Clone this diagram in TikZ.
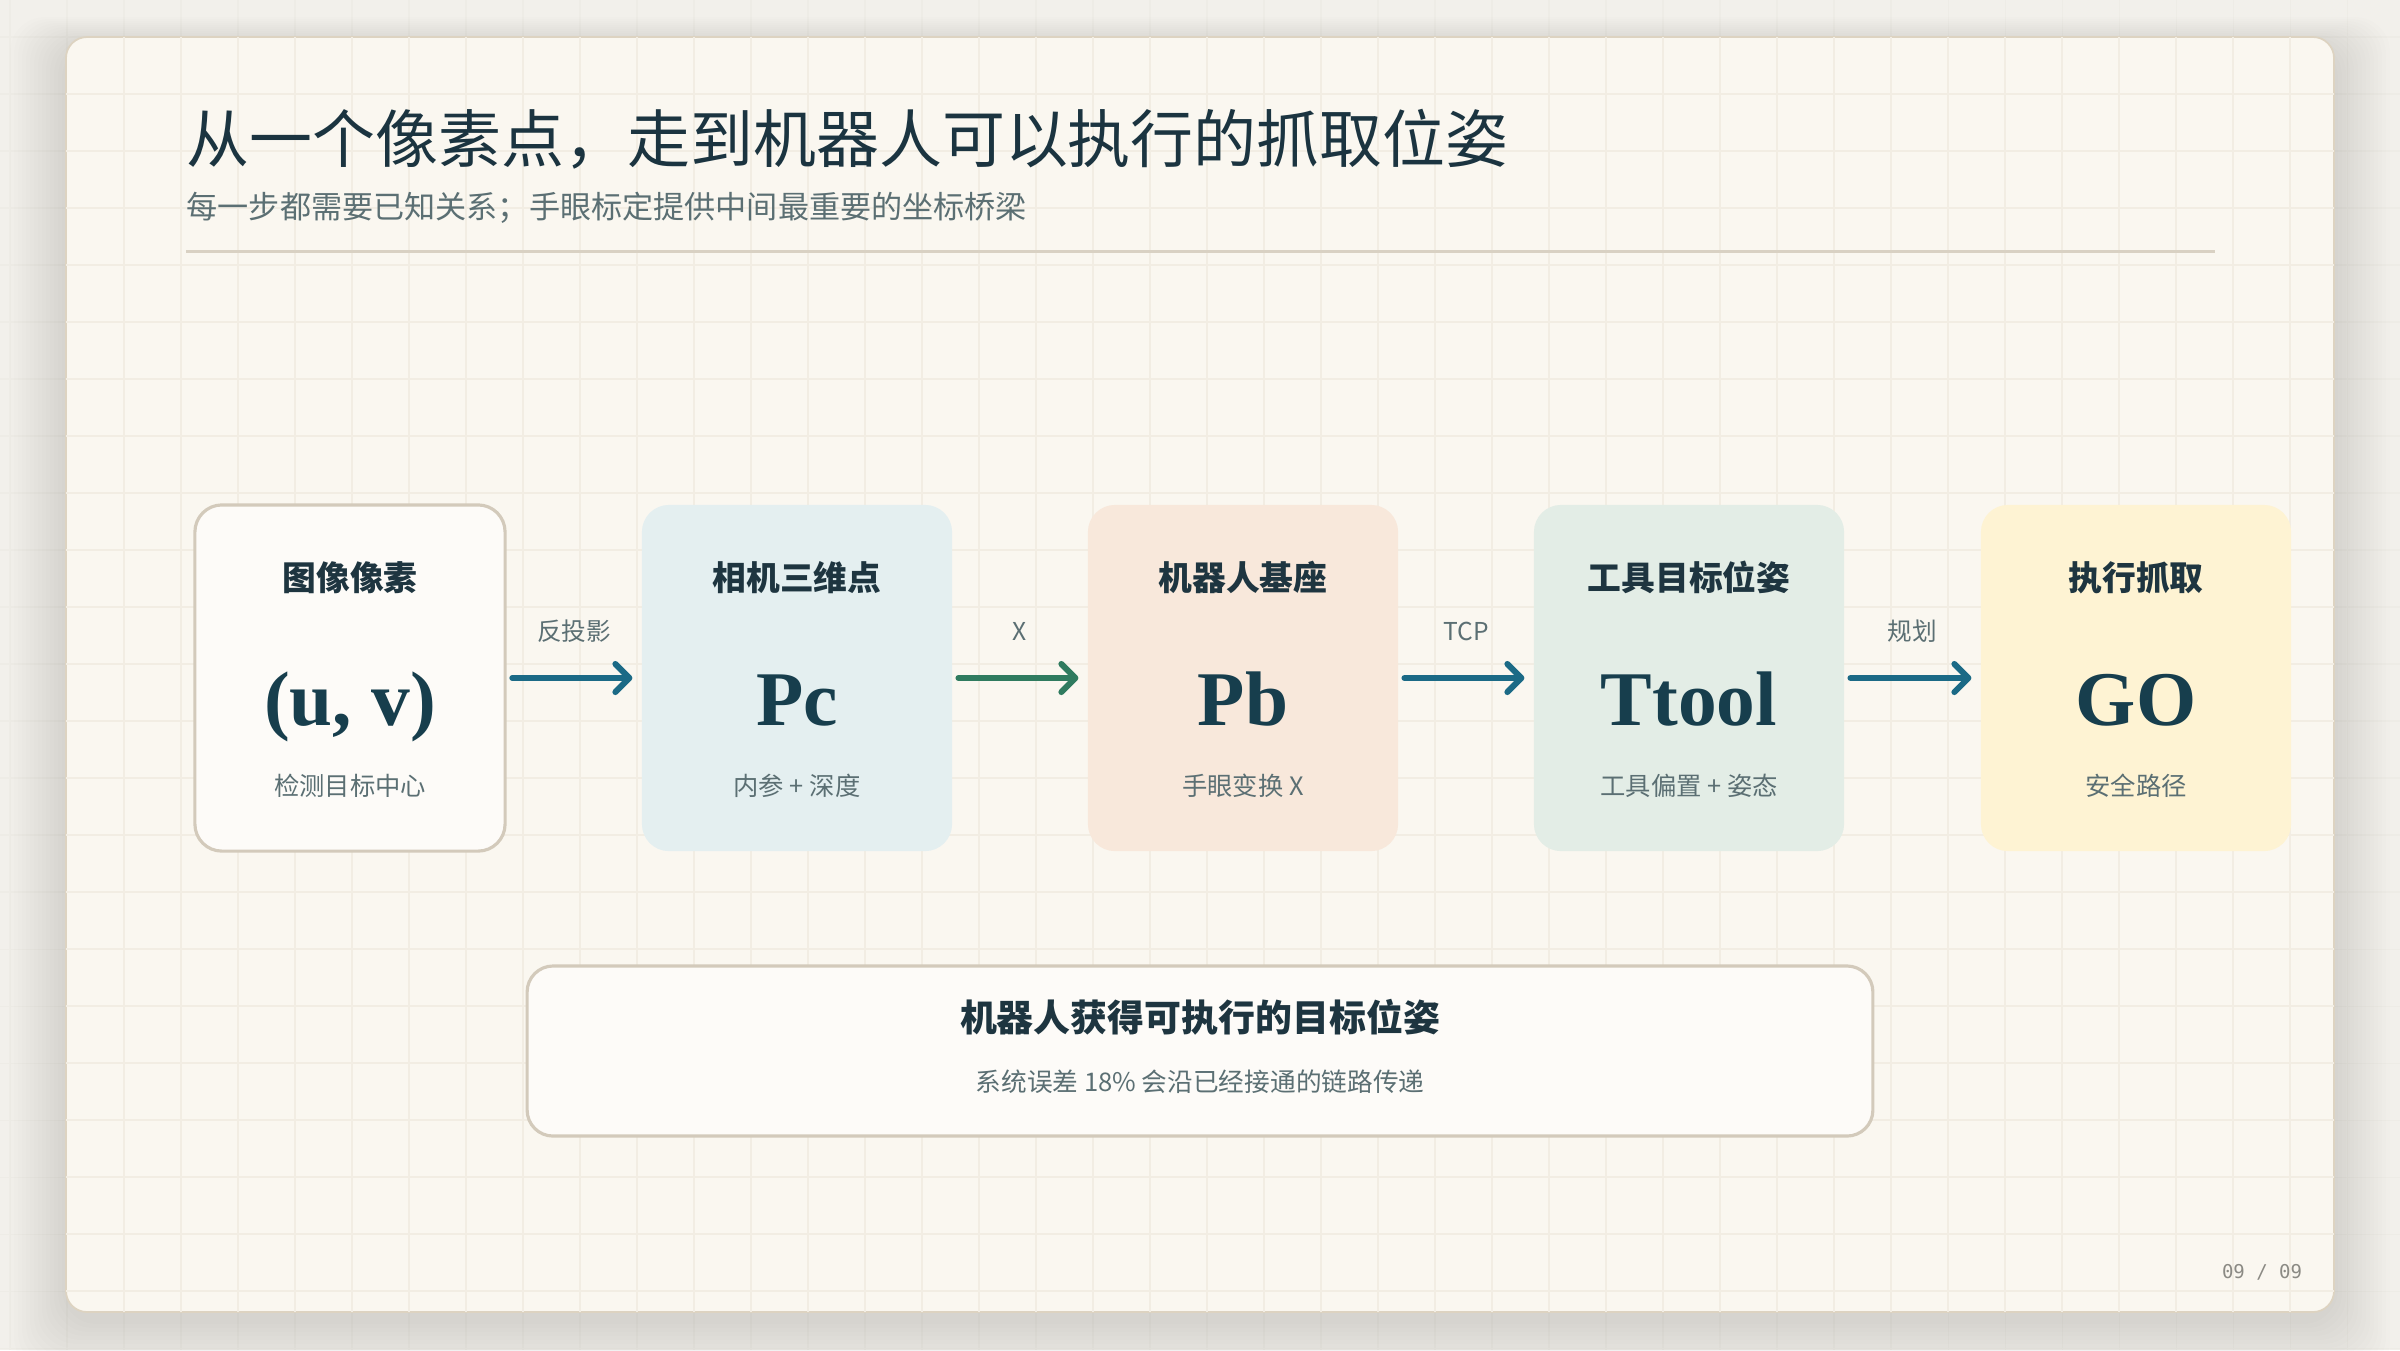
\documentclass[tikz,border=0pt]{standalone}
\usepackage{fontspec}
\newfontfamily\cjk{Noto Sans CJK SC}
\newfontfamily\bigserif{Liberation Serif}
\newfontfamily\pagemono{DejaVu Sans Mono}
\usetikzlibrary{positioning,arrows.meta,calc}
\definecolor{PageBg}{HTML}{F2F0EB}
\definecolor{CardBg}{HTML}{FAF7F0}
\definecolor{CardLine}{HTML}{DDD3C1}
\definecolor{GridLine}{HTML}{F2EDE3}
\definecolor{GridFaint}{HTML}{EEECE6}
\definecolor{TitleInk}{HTML}{1B3440}
\definecolor{HeadInk}{HTML}{1E3540}
\definecolor{BigInk}{HTML}{173E4D}
\definecolor{MutedInk}{HTML}{5B6F73}
\definecolor{RuleLine}{HTML}{D9D1C3}
\definecolor{BoxLine}{HTML}{D3CABB}
\definecolor{PaperWhite}{HTML}{FDFBF8}
\definecolor{SkyFill}{HTML}{E4EFF0}
\definecolor{PeachFill}{HTML}{F8E8DB}
\definecolor{MintFill}{HTML}{E3EDE6}
\definecolor{CreamFill}{HTML}{FEF3D3}
\definecolor{FlowBlue}{HTML}{1B6A86}
\definecolor{FlowGreen}{HTML}{2F7B5F}
\definecolor{PageNum}{HTML}{8B8A84}
\tikzset{>=latex}
\tikzset{stagebox/.style={rounded corners=0.27cm,minimum width=3.1cm,minimum height=3.46cm,inner sep=0pt}}
\tikzset{firstbox/.style={stagebox,fill=PaperWhite,draw=BoxLine,line width=0.9pt}}
\tikzset{plainbox/.style={stagebox,draw=none}}
\tikzset{stagehead/.style={anchor=base,inner sep=0pt,text=HeadInk,font=\cjk\bfseries\fontsize{9.6}{11}\selectfont}}
\tikzset{stagebig/.style={anchor=base,inner sep=0pt,text=BigInk,font=\bigserif\bfseries\fontsize{22}{24}\selectfont}}
\tikzset{stagesub/.style={anchor=base,inner sep=0pt,text=MutedInk,font=\cjk\fontsize{7.2}{9}\selectfont}}
\tikzset{arrowlab/.style={anchor=base,inner sep=0pt,text=MutedInk,font=\cjk\fontsize{7}{8}\selectfont}}
\tikzset{flow/.style={line width=1.7pt,line cap=round,-{Straight Barb[length=4pt,width=8pt,round]},shorten <=1.6pt,shorten >=2.5pt}}
\tikzset{gridline/.style={GridLine,line width=0.4pt}}

\begin{document}
\begin{tikzpicture}[x=0.01cm,y=-0.01cm]
    \useasboundingbox (0,0) rectangle (2400,1350);
    \fill[PageBg] (0,0) rectangle (2400,1350);
    % faint page grid
    \foreach \gx in {10,67,...,2400} \draw[GridFaint,line width=0.3pt] (\gx,0) -- (\gx,1350);
    \foreach \gy in {37,94,...,1350} \draw[GridFaint,line width=0.3pt] (0,\gy) -- (2400,\gy);
    % soft shadow of the card
    \foreach \s in {1,...,14}
        \fill[black,opacity=0.008,rounded corners=0.35cm] ({66-\s*4},{37-\s*2+8}) rectangle ({2334+\s*4},{1312+\s*4+8});
    % card
    \draw[fill=CardBg,draw=CardLine,line width=0.5pt,rounded corners=0.21cm] (66,37) rectangle (2334,1312);
    \foreach \gx in {124,181,...,2334} \draw[gridline] (\gx,37) -- (\gx,1312);
    \foreach \gy in {94,151,...,1312} \draw[gridline] (66,\gy) -- (2334,\gy);

    % heading
    \node[anchor=base west,inner sep=0pt,text=TitleInk,font=\cjk\fontsize{17.9}{20}\selectfont] (title) at (186,162) {从一个像素点，走到机器人可以执行的抓取位姿};
    \node[anchor=base west,inner sep=0pt,text=MutedInk,font=\cjk\fontsize{8.85}{10}\selectfont] (subtitle) at (186,218) {每一步都需要已知关系；手眼标定提供中间最重要的坐标桥梁};
    \draw[RuleLine,line width=0.85pt] (186,251) -- (2215,251);

    % stages
    \foreach \n/\x/\st/\col/\head/\big/\sub in {
        1/350/firstbox/PaperWhite/图像像素/{(u, v)}/检测目标中心,
        2/797/plainbox/SkyFill/相机三维点/Pc/内参 + 深度,
        3/1243/plainbox/PeachFill/机器人基座/Pb/手眼变换 X,
        4/1689/plainbox/MintFill/工具目标位姿/Ttool/工具偏置 + 姿态,
        5/2136/plainbox/CreamFill/执行抓取/GO/安全路径} {
        \node[\st,fill=\col] (b\n) at (\x,678) {};
        \node[stagehead] (h\n) at (\x,590) {\head};
        \node[stagebig] (v\n) at (\x,725) {\big};
        \node[stagesub] (s\n) at (\x,795) {\sub};
    }
    \foreach \i/\j/\lab/\col in {
        b1/b2/反投影/FlowBlue,
        b2/b3/X/FlowGreen,
        b3/b4/TCP/FlowBlue,
        b4/b5/规划/FlowBlue} {
        \draw[flow,\col] (\i.east) -- node[arrowlab,midway,yshift=0.38cm] {\lab} (\j.west);
    }

    % result
    \node[rounded corners=0.26cm,fill=PaperWhite,draw=BoxLine,line width=0.9pt,minimum width=13.45cm,minimum height=1.7cm,inner sep=0pt] (result) at (1200,1051) {};
    \node[anchor=base,inner sep=0pt,text=HeadInk,font=\cjk\bfseries\fontsize{10.5}{12}\selectfont] (resulthead) at (1200,1031) {机器人获得可执行的目标位姿};
    \node[anchor=base,inner sep=0pt,text=MutedInk,font=\cjk\fontsize{7.3}{9}\selectfont] (resultsub) at (1200,1091) {系统误差 18\% 会沿已经接通的链路传递};

    \node[anchor=base,inner sep=0pt,text=PageNum,font=\pagemono\fontsize{5.4}{6}\selectfont] (pagenum) at (2262,1278) {09 / 09};
\end{tikzpicture}
\end{document}
